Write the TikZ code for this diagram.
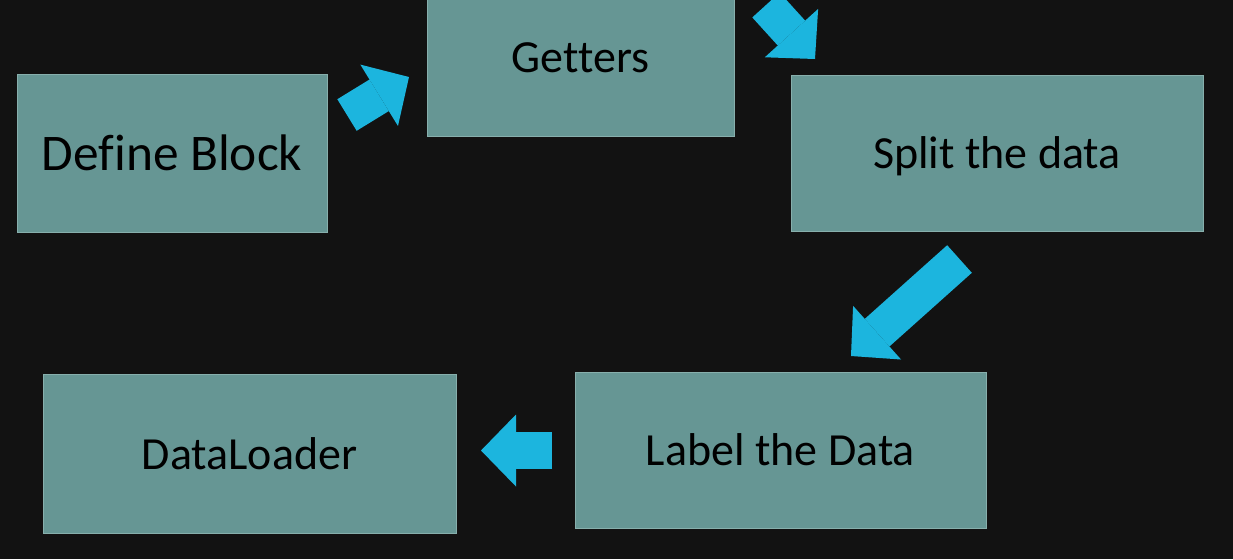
\documentclass[tikz,border=0pt]{standalone}
\usepackage{fontspec}
\setmainfont{Carlito}[Ligatures=NoCommon]
\usetikzlibrary{arrows.meta}
\definecolor{bgdark}{RGB}{18,18,18}
\definecolor{boxteal}{RGB}{102,150,148}
\definecolor{boxedge}{RGB}{135,175,172}
\definecolor{flowcyan}{RGB}{28,181,222}

\begin{document}
\begin{tikzpicture}[x=0.5pt, y=-0.5pt,
    stagebox/.style={draw=boxedge, line width=0.5pt, fill=boxteal, inner sep=0pt, text=black, text depth=0pt, font=\fontsize{23}{28}\selectfont},
    flowarrow/.style={draw=flowcyan, line width=18.5pt, -{Triangle[width=36pt, length=17.5pt, line width=0pt]}}]

    \useasboundingbox (0,0) rectangle (1233,559);
    \fill [bgdark] (0,0) rectangle (1233,559);
    \clip (0,0) rectangle (1233,559);

    % stages
    \node [stagebox, minimum width=155pt, minimum height=79pt, font=\fontsize{25.7}{30}\selectfont] (define) at (172,153) {Define Block};
    \node [stagebox, minimum width=153.5pt, minimum height=78.5pt] (getters) at (580.5,57.5) {Getters};
    \node [stagebox, minimum width=206pt, minimum height=78pt] (split) at (997,153) {Split the data};
    \node [stagebox, minimum width=205.5pt, minimum height=78pt] (label) at (780.5,450) {Label the Data};
    \node [stagebox, minimum width=206.5pt, minimum height=79.5pt] (loader) at (249.5,453.5) {DataLoader};

    % arrow ends
    \coordinate (defineout) at (347,115);
    \coordinate (gettersin) at (409,77);
    \coordinate (gettersout) at (766,5);
    \coordinate (splitin) at (815,59);
    \coordinate (splitout) at (959.5,259);
    \coordinate (labelin) at (851,356);
    \coordinate (labelout) at (552,450.5);
    \coordinate (loaderin) at (481,450.5);

    \draw [flowarrow] (defineout) -- (gettersin);
    \draw [flowarrow] (gettersout) -- (splitin);
    \draw [flowarrow] (splitout) -- (labelin);
    \draw [flowarrow] (labelout) -- (loaderin);

\end{tikzpicture}
\end{document}
